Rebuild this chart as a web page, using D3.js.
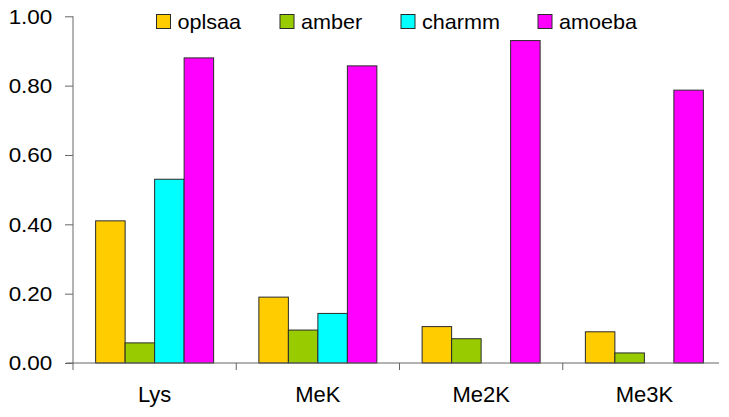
<!DOCTYPE html>
<html><head><meta charset="utf-8">
<script src="https://cdn.jsdelivr.net/npm/d3@7"></script>
<style>
html,body{margin:0;padding:0;background:#fff;}
svg{display:block;font-family:"Liberation Sans",Arial,sans-serif;}
</style></head>
<body>
<svg id="chart" width="729" height="417"></svg>
<script>
const categories = ["Lys", "MeK", "Me2K", "Me3K"];
const seriesNames = ["oplsaa", "amber", "charmm", "amoeba"];
const oplsaa = [0.41, 0.19, 0.105, 0.09];
const amber = [0.058, 0.095, 0.07, 0.029];
const charmm = [0.53, 0.143, null, null];
const amoeba = [0.88, 0.857, 0.93, 0.787];
const yTicks = [0, 0.2, 0.4, 0.6, 0.8, 1.0];
const colors = ["#FFCC00", "#99CC00", "#00FFFF", "#FF00FF"];

const seriesValues = [oplsaa, amber, charmm, amoeba];

const svg = d3.select("#chart");
const x0 = d3.scaleBand().domain(categories).range([73, 726]).paddingInner(0).paddingOuter(0);
const x1 = d3.scaleBand().domain(seriesNames).range([0, x0.bandwidth()]).paddingInner(0).paddingOuter(0.767);
const y = d3.scaleLinear().domain([0, 1]).range([363, 16.3]);
const color = d3.scaleOrdinal().domain(seriesNames).range(colors);

// bars
const groups = svg.append("g").selectAll("g").data(categories).join("g")
  .attr("transform", d => `translate(${x0(d)},0)`);
groups.selectAll("rect")
  .data((c, i) => seriesNames.map((s, j) => ({s, v: seriesValues[j][i]})).filter(d => d.v != null))
  .join("rect")
  .attr("x", d => x1(d.s))
  .attr("width", x1.bandwidth())
  .attr("y", d => y(d.v))
  .attr("height", d => y(0) - y(d.v))
  .attr("fill", d => color(d.s))
  .attr("stroke", "#2a2a2a")
  .attr("stroke-width", 1);

// y axis
const yAxis = svg.append("g").attr("transform", "translate(73,0)")
  .call(d3.axisLeft(y).tickValues(yTicks).tickFormat(d3.format(".2f")).tickSize(8).tickPadding(11.3).tickSizeOuter(0));
yAxis.select(".domain").attr("stroke", "#666").attr("d", `M0,${y(1)}V${y(0)}`);
yAxis.selectAll(".tick line").attr("stroke", "#666");
yAxis.selectAll(".tick text")
  .attr("font-size", 21).attr("fill", "#000")
  .attr("font-family", "Liberation Sans, Arial, sans-serif")
  .attr("transform", "scale(1.07,1)");

// x axis (baseline with separators between categories)
const xg = svg.append("g");
xg.append("line").attr("x1", 66).attr("x2", 719).attr("y1", y(0)).attr("y2", y(0)).attr("stroke", "#666");
xg.selectAll("line.sep").data(categories).join("line").attr("class", "sep")
  .attr("x1", d => x0(d)).attr("x2", d => x0(d))
  .attr("y1", y(0)).attr("y2", y(0) + 7).attr("stroke", "#666");
xg.selectAll("text").data(categories).join("text")
  .attr("transform", d => `translate(${x0(d) + x0.bandwidth() / 2},401.5)`)
  .attr("text-anchor", "middle").attr("font-size", 22).attr("fill", "#000")
  .text(d => d);

// legend
const legendX = [156.5, 280, 401, 538];
const lg = svg.append("g").selectAll("g").data(seriesNames).join("g")
  .attr("transform", (d, i) => `translate(${legendX[i]},0)`);
lg.append("rect").attr("x", 0).attr("y", 14.5).attr("width", 14).attr("height", 14)
  .attr("fill", d => color(d)).attr("stroke", "#2a2a2a").attr("stroke-width", 1);
lg.append("text").attr("transform", "translate(21,29) scale(1.08,1)")
  .attr("font-size", 20).attr("fill", "#000").text(d => d);
</script>
</body></html>
